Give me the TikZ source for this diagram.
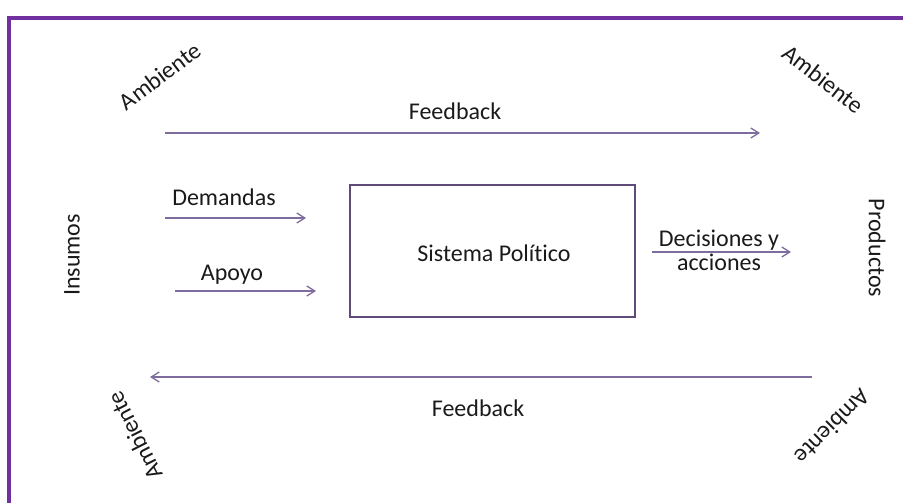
\documentclass[tikz,border=0pt]{standalone}
\usepackage{fontspec}
\setmainfont{Carlito}[Ligatures=NoCommon]
\usetikzlibrary{arrows.meta}
\definecolor{framepurple}{HTML}{7030A0}
\definecolor{arrowcol}{HTML}{7E6C9E}
\definecolor{boxcol}{HTML}{5F4B7A}
\definecolor{txt}{HTML}{1A1A1A}
\tikzset{
  lbl/.style={font=\fontsize{24}{26}\selectfont, text=txt, inner sep=0pt},
  arr/.style={draw=arrowcol, line width=1.3pt, -{Straight Barb[length=8pt,width=10pt,line width=1.3pt]}},
  sysbox/.style={draw=boxcol, line width=2.5pt, minimum width=285pt, minimum height=132pt, inner sep=0pt},
  frameline/.style={draw=framepurple, line width=4pt}
}
\begin{document}
\begin{tikzpicture}[x=1pt,y=-1pt]
\useasboundingbox (0,0) rectangle (903,503);
% frame
\coordinate (fr1) at (9,503);
\coordinate (fr2) at (9,18);
\coordinate (fr3) at (905,18);
\draw[frameline] (fr1) -- (fr2) -- (fr3);
% corner labels
\node[lbl, rotate=37] (amb1) at (160,76) {Ambiente};
\node[lbl, rotate=-38] (amb2) at (823,79) {Ambiente};
\node[lbl, rotate=117] (amb3) at (135,436) {Ambiente};
\node[lbl, rotate=-135] (amb4) at (833,427) {Ambiente};
\node[lbl, rotate=90] (ins) at (72,255) {Insumos};
\node[lbl, rotate=-90] (prod) at (877,248) {Productos};
% system box
\node[sysbox] (sys) at (492.5,251) {};
\node[lbl] (systxt) at (494,253) {Sistema Político};
% feedback top
\node[lbl] (fbt) at (455,111) {Feedback};
\coordinate (fbts) at (165,133);
\coordinate (fbte) at (760,133);
\draw[arr] (fbts) -- (fbte);
% demandas
\node[lbl] (dem) at (224,197) {Demandas};
\coordinate (dems) at (165,218);
\coordinate (deme) at (306,218);
\draw[arr] (dems) -- (deme);
% apoyo
\node[lbl] (apo) at (232,275) {Apoyo};
\coordinate (apos) at (175,291);
\coordinate (apoe) at (316,291);
\draw[arr] (apos) -- (apoe);
% decisiones
\node[lbl, align=center, font=\fontsize{24}{24}\selectfont] (dec) at (719,250) {Decisiones y\\acciones};
\coordinate (decs) at (652,252);
\coordinate (dece) at (791,252);
\draw[arr] (decs) -- (dece);
% feedback bottom
\node[lbl] (fbb) at (478,408) {Feedback};
\coordinate (fbbs) at (812,377);
\coordinate (fbbe) at (150,377);
\draw[arr] (fbbs) -- (fbbe);
\end{tikzpicture}
\end{document}
